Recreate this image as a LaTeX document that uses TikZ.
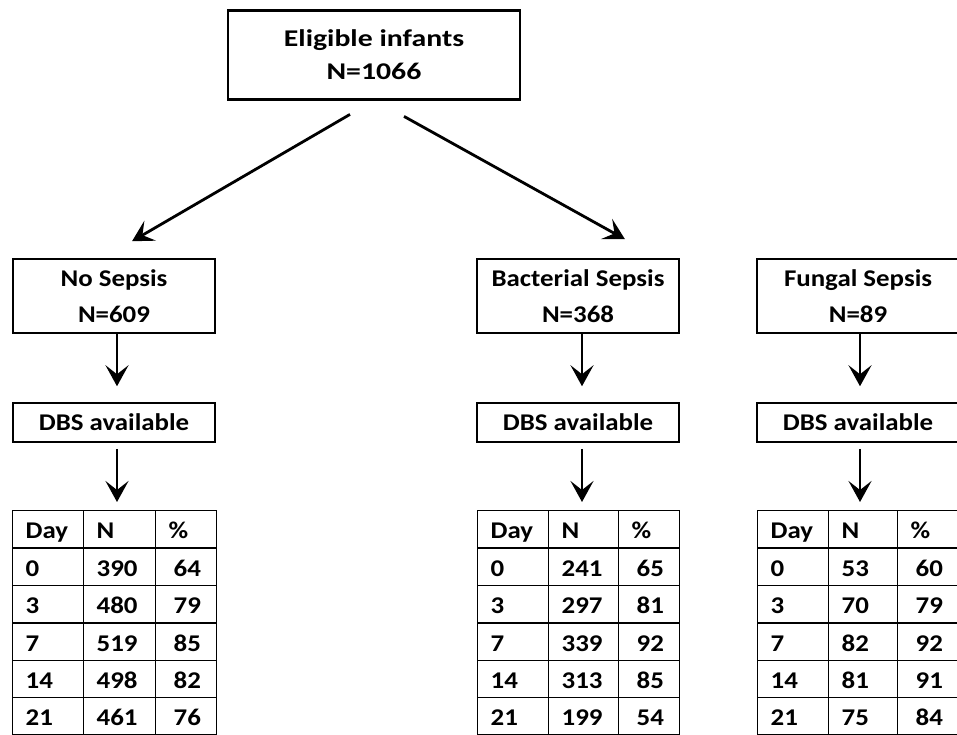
\documentclass[tikz,border=0pt]{standalone}
\usepackage{fontspec}
\setmainfont{Carlito}[FakeStretch=1.12]
\newfontfamily\widefont{Carlito}[FakeStretch=1.24]
\usetikzlibrary{arrows.meta}
\begin{document}
\begin{tikzpicture}[x=1pt,y=-1pt,
  txt/.style={font=\fontsize{24}{36}\selectfont\bfseries},
  topbox/.style={draw, line width=2.8pt, minimum width=292pt, minimum height=89pt, align=center, inner sep=0pt, font=\widefont\fontsize{24}{33}\selectfont\bfseries},
  grpbox/.style={txt, draw, line width=1.5pt, minimum width=202pt, minimum height=74pt, align=center, inner sep=0pt},
  dbsbox/.style={txt, draw, line width=1.5pt, minimum width=202pt, minimum height=39pt, align=center, inner sep=0pt},
  cell/.style={txt, draw, line width=1.3pt, minimum height=37.4pt, text height=19pt, text depth=0pt, inner xsep=13pt, inner ysep=0pt, align=left, anchor=north west},
  arr/.style={line width=2.8pt, -{Stealth[length=21pt,width=23pt,inset=9pt]}}
]
\useasboundingbox (0,0) rectangle (957,735);
\clip (0,0) rectangle (957,735);
\fill[white] (0,0) rectangle (957,735);

\node[topbox] (top) at (374,55) {Eligible infants\\N=1066};

\node[grpbox] (ns) at (114,296) {No Sepsis\\N=609};
\node[grpbox] (bs) at (578,296) {Bacterial Sepsis\\N=368};
\node[grpbox] (fs) at (858,296) {Fungal Sepsis\\N=89};

\node[dbsbox] (da) at (114,422.5) {DBS available};
\node[dbsbox] (db) at (578,422.5) {DBS available};
\node[dbsbox] (dc) at (858,422.5) {DBS available};

% tables
\foreach \d/\n/\p [count=\i from 0] in {Day/N/\%, 0/390/64, 3/480/79, 7/519/85, 14/498/82, 21/461/76} {
  \node[cell, text width=45pt] (ta-\i-1) at (12,510+\i*37.4) {\d};
  \node[cell, text width=46pt] (ta-\i-2) at (83,510+\i*37.4) {\n};
  \node[cell, text width=35pt] (ta-\i-3) at (155,510+\i*37.4) {\ifnum\i>0 \hspace*{5pt}\fi\p};
}
\foreach \d/\n/\p [count=\i from 0] in {Day/N/\%, 0/241/65, 3/297/81, 7/339/92, 14/313/85, 21/199/54} {
  \node[cell, text width=45pt] (tb-\i-1) at (477,510+\i*37.4) {\d};
  \node[cell, text width=44pt] (tb-\i-2) at (548,510+\i*37.4) {\n};
  \node[cell, text width=35pt] (tb-\i-3) at (618,510+\i*37.4) {\ifnum\i>0 \hspace*{5pt}\fi\p};
}
\foreach \d/\n/\p [count=\i from 0] in {Day/N/\%, 0/53/60, 3/70/79, 7/82/92, 14/81/91, 21/75/84} {
  \node[cell, text width=45pt] (tc-\i-1) at (757,510+\i*37.4) {\d};
  \node[cell, text width=43pt] (tc-\i-2) at (828,510+\i*37.4) {\n};
  \node[cell, text width=36pt] (tc-\i-3) at (897,510+\i*37.4) {\ifnum\i>0 \hspace*{5pt}\fi\p};
}

% arrows from top box
\draw[arr] ([xshift=-24pt,yshift=-13.5pt]top.south) -- ([xshift=18pt,yshift=17pt]ns.north);
\draw[arr] ([xshift=30pt,yshift=-15.5pt]top.south) -- ([xshift=47pt,yshift=19pt]bs.north);

% vertical arrows
\foreach \g/\dd/\t/\dx in {ns/da/ta/3, bs/db/tb/4, fs/dc/tc/2} {
  \draw[arr, shorten >=16pt] ([xshift=\dx pt]\g.south) -- ([xshift=\dx pt]\dd.north);
  \draw[arr, shorten <=6pt, shorten >=8pt] ([xshift=\dx pt]\dd.south) -- ([xshift=\dx pt]\dd.south |- \t-0-1.north);
}
\end{tikzpicture}
\end{document}
